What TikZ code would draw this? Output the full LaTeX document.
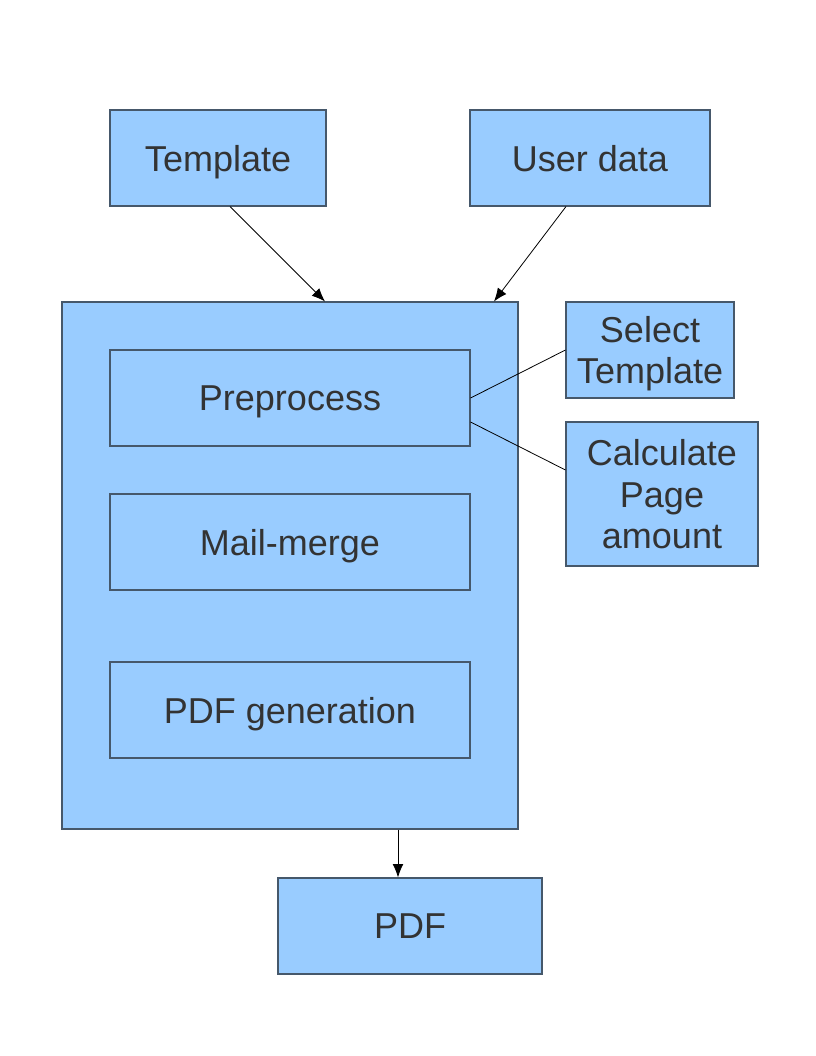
\documentclass[tikz,border=0pt]{standalone}
\usepackage{fontspec}
\setmainfont{Liberation Sans}
\usepackage{xcolor}
\usetikzlibrary{arrows.meta,calc,positioning}
\definecolor{boxfill}{HTML}{99CCFF}
\definecolor{boxline}{HTML}{46586B}
\definecolor{boxtext}{HTML}{333333}
\begin{document}
\begin{tikzpicture}[x=0.75pt,y=-0.75pt,
  font=\fontsize{27}{31}\selectfont,
  box/.style={draw=boxline,line width=0.8pt,fill=boxfill,text=boxtext,align=center,inner sep=0pt,text depth=0pt,minimum height=72pt},
  link/.style={draw=black,line width=0.6pt},
  flow/.style={link,-{Latex[length=10pt,width=8pt]}}]
\useasboundingbox (0,0) rectangle (816,1056);
\node[box,minimum width=162pt] (tmpl) at (218,158) {Template};
\node[box,minimum width=180pt] (udata) at (590,158) {User data};
\node[box,minimum width=342pt,minimum height=395.25pt] (core) at (290,565.5) {};
\node[box,minimum width=270pt] (pre) at (290,398) {Preprocess};
\node[box,minimum width=270pt] (merge) at (290,542) {Mail-merge};
\node[box,minimum width=270pt] (gen) at (290,710) {PDF generation};
\node[box,minimum width=126pt] (select) at (650,350) {Select\\Template};
\node[box,minimum width=144pt,minimum height=108pt] (calc) at (662,494) {Calculate\\Page\\amount};
\node[box,minimum width=198pt] (pdf) at (410,926) {PDF};
% inputs
\draw[flow] ($(tmpl.south)+(12,0)$) -- ($(core.north)+(35,0)$);
\draw[flow] ($(udata.south)+(-24,0)$) -- ($(core.north)+(204,0)$);
% preprocess steps
\draw[link] (pre.east) -- (select.west);
\draw[link] ($(pre.east)+(0,24)$) -- ($(calc.west)+(0,-24)$);
% output
\draw[flow] ($(core.south)+(108,0)$) -- ($(pdf.north)+(-12,0)$);
\end{tikzpicture}
\end{document}
